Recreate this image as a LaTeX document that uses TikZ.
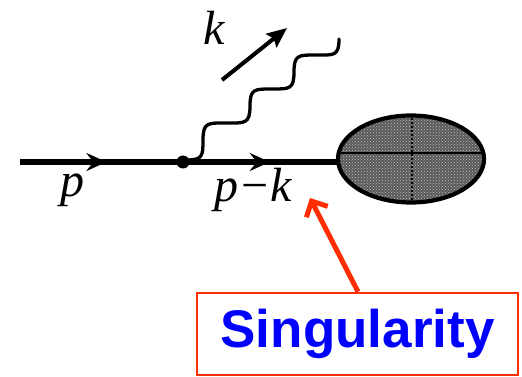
\documentclass[tikz,border=0pt]{standalone}
\usepackage{fontspec}
\setmainfont{Liberation Serif}
\newfontfamily\sansfam{Liberation Sans}
\usetikzlibrary{shapes.geometric,arrows.meta,decorations.markings,patterns}
\definecolor{sred}{RGB}{255,45,0}
\definecolor{sblue}{RGB}{0,0,255}
\definecolor{blobdark}{RGB}{90,90,90}
\definecolor{bloblight}{RGB}{190,190,190}
\tikzset{
  fermion/.style={line width=5.5pt, postaction={decorate},
    decoration={markings, mark=at position #1 with {\arrow{Stealth[length=20pt,width=18pt,inset=7pt]}}}},
  photon/.style={line width=3.3pt, line cap=round},
  lbl/.style={font=\fontsize{48}{48}\selectfont\itshape, inner sep=0pt},
}
\begin{document}
\begin{tikzpicture}[x=1pt,y=-1pt]
\useasboundingbox (0,0) rectangle (522,377);
% nodes
\coordinate (s) at (20,162);
\node[ellipse, minimum width=146pt, minimum height=87pt, inner sep=0pt,
      preaction={fill=blobdark}, pattern=crosshatch dots, pattern color=bloblight] (blob) at (411,159) {};
\begin{scope}
  \clip (411,159) ellipse [x radius=72pt, y radius=42pt];
  \draw[line width=1.6pt] (330,153) -- (490,153);
  \draw[line width=2pt, dotted] (412,110) -- (412,210);
\end{scope}
\draw[line width=4.2pt] (blob) ellipse [x radius=73pt, y radius=43.5pt];
\node[circle, fill=black, minimum size=13pt, inner sep=0pt] (v) at (183,162) {};
% fermion lines
\draw[fermion=0.53] (s) -- (v.center);
\draw[fermion=0.56] (v.center) -- (blob.west |- v);
% photon
\coordinate (w0) at (186,160);
\coordinate (w1) at (203,140);
\coordinate (w2) at (226,123);
\coordinate (w3) at (250,106);
\coordinate (w4) at (272,89);
\coordinate (w5) at (294,72);
\coordinate (w6) at (316,55);
\coordinate (w7) at (339,39);
\draw[photon, looseness=1.6] (w0) to[out=0,in=-90] (w1) to[out=90,in=180] (w2)
  to[out=0,in=-90] (w3) to[out=90,in=180] (w4)
  to[out=0,in=-90] (w5) to[out=90,in=180] (w6)
  to[out=0,in=-90] (w7);
% k arrow
\coordinate (ka) at (222,80);
\coordinate (kb) at (287,28);
\draw[line width=4pt, -{Stealth[length=20pt,width=17pt,inset=3pt]}] (ka) -- (kb);
% labels
\node[lbl] (lp) at (72,190) {p};
\node[lbl] (lpk) at (253,190) {p−k};
\node[lbl] (lk) at (214,28) {k};
% singularity box
\node[draw=sred, line width=2.5pt, minimum width=321pt, minimum height=82pt, inner sep=0pt,
      text=sblue, font=\sansfam\bfseries\fontsize{53}{53}\selectfont] (box) at (357.5,334) {Singularity};
\coordinate (tip) at (310,198);
\draw[sred, line width=5pt, -{Straight Barb[length=12pt,width=24pt]}] (box.north -| 358,0) -- (tip);
\end{tikzpicture}
\end{document}
